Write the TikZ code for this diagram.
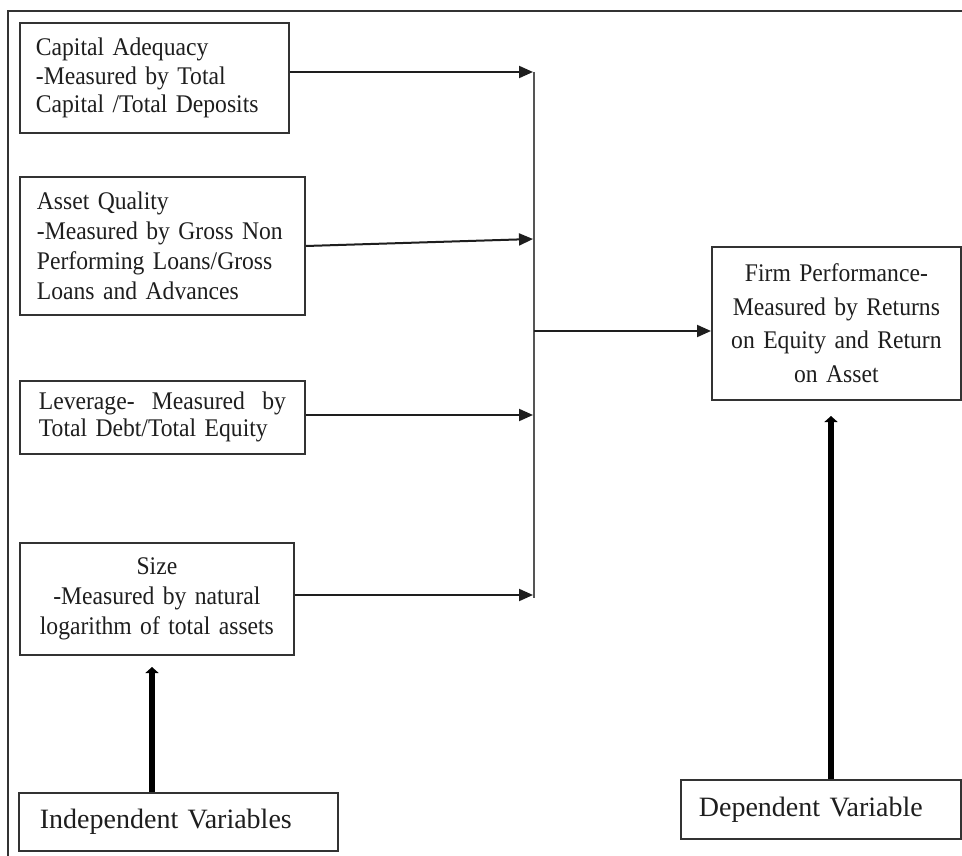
\documentclass[tikz,border=0pt]{standalone}
\usepackage{fontspec}
\setmainfont{Liberation Serif}
\newfontfamily\condserif[FakeStretch=0.93]{Liberation Serif}
\usetikzlibrary{arrows.meta,calc}
\definecolor{ink}{HTML}{1E1E1E}
\definecolor{edge}{HTML}{333333}
\definecolor{bus}{HTML}{555555}
\begin{document}
\begin{tikzpicture}[x=1pt,y=-1pt,
  box/.style={draw=edge, line width=1.8pt, rectangle, anchor=north west, text=ink,
              inner ysep=0pt},
  bigbox/.style={box, font=\fontsize{28}{32}\selectfont},
  thin/.style={draw=ink, line width=2pt, -{Triangle[length=14pt,width=12pt]}},
  thick/.style={draw=black, line width=6.5pt, -{Triangle[length=6pt,width=13pt]}}]
\useasboundingbox (0,0) rectangle (962,856);
\fill[white] (0,0) rectangle (962,856);
% outer frame
\draw[edge, line width=1.8pt] (962,11) -- (8,11) -- (8,858);

% independent variable boxes
\node[box, minimum width=269pt, minimum height=110pt, text width=237pt, inner xsep=16pt,
      align=left, font=\condserif\fontsize{25.4}{28.5}\selectfont] (ca) at (19,22)
  {Capital Adequacy\\-Measured by Total\\Capital /Total Deposits};
\node[box, minimum width=285pt, minimum height=138pt, text width=251pt, inner xsep=17pt,
      align=left, font=\condserif\fontsize{25.4}{30}\selectfont] (aq) at (19,176)
  {Asset Quality\\-Measured by Gross Non\\Performing Loans/Gross\\Loans and Advances};
\node[box, minimum width=285pt, minimum height=73pt, text width=247pt, inner xsep=17pt,
      align=left, font=\condserif\fontsize{25.4}{27}\selectfont] (lev) at (19,380)
  {\makebox[247pt][l]{Leverage-\hfill Measured\hfill by}\\Total Debt/Total Equity};
\node[box, minimum width=274pt, minimum height=112pt, text width=250pt, inner xsep=12pt,
      align=center, font=\condserif\fontsize{25.4}{30}\selectfont] (size) at (19,542)
  {Size\\-Measured by natural\\logarithm of total assets};

% dependent variable box
\node[box, minimum width=249pt, minimum height=153pt, text width=230pt, inner xsep=9pt,
      align=center, font=\condserif\fontsize{25.4}{33.5}\selectfont] (firm) at (711,246)
  {Firm Performance-\\Measured by Returns\\on Equity and Return\\on Asset};

% category boxes
\node[bigbox, minimum width=319pt, minimum height=58pt, text width=277pt, inner xsep=21pt,
      align=left] (ind) at (18,792) {Independent Variables};
\node[bigbox, minimum width=280pt, minimum height=59pt, text width=244pt, inner xsep=18pt,
      align=left] (dep) at (680,779) {Dependent Variable};

% bus
\coordinate (bt) at (534,72);
\coordinate (bb) at (534,598);
\draw[bus, line width=2pt] (bt) -- (bb);

\coordinate (t1) at (533,72);
\coordinate (s2) at (304,246);
\coordinate (t2) at (533,239);
\coordinate (t3) at (533,415);
\coordinate (t4) at (533,595);
\draw[thin] (t1 -| ca.east) -- (t1);
\draw[thin] (s2 -| aq.east) -- (t2);
\draw[thin] (t3 -| lev.east) -- (t3);
\draw[thin] (t4 -| size.east) -- (t4);

\coordinate (m) at (534,331);
\draw[thin] (m) -- (m -| firm.west);

% thick arrows
\coordinate (ia) at (152,667);
\coordinate (da) at (831,416);
\draw[thick] (ia |- ind.north) -- (ia);
\draw[thick] (da |- dep.north) -- (da);
\end{tikzpicture}
\end{document}
